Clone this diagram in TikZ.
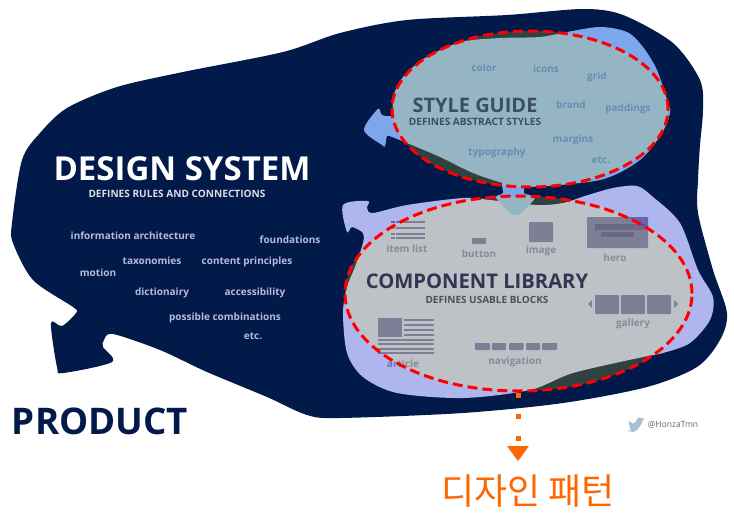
\documentclass[tikz,border=0pt]{standalone}
\usepackage{fontspec}
\setmainfont{Open Sans}
\newfontfamily\krfont{Noto Sans CJK KR}
\definecolor{navy}{HTML}{021A4A}
\definecolor{skyb}{HTML}{7EA6EC}
\definecolor{peri}{HTML}{AFB6EE}
\definecolor{hl}{HTML}{FFFA14}
\definecolor{ora}{HTML}{FF6600}
\definecolor{stext}{HTML}{4B73D2}
\definecolor{sdark}{HTML}{0F2A70}
\definecolor{ctext}{HTML}{0A0864}
\definecolor{csub}{HTML}{2A2864}
\definecolor{cicon}{HTML}{6064B3}
\definecolor{cbar}{HTML}{484A9C}
\definecolor{clab}{HTML}{6E72B8}
\definecolor{ltext}{HTML}{B7B9DC}
\definecolor{birdc}{HTML}{A9BFCF}
\tikzset{
  x=1pt,y=-1pt,
  every node/.style={inner sep=0pt,outer sep=0pt,font=\bfseries},
  icon/.style={fill=cicon,draw=none},
  bar/.style={fill=cbar,draw=none},
  stylesmall/.style={text=stext,font=\bfseries\fontsize{10}{12}\selectfont},
  compsmall/.style={text=clab,font=\bfseries\fontsize{10}{12}\selectfont},
  leftsmall/.style={text=ltext,font=\bfseries\fontsize{10}{12}\selectfont},
  highlight/.style={fill=hl,fill opacity=.18},
  ring/.style={draw=red,line width=3pt,dash pattern=on 10pt off 5pt},
  flow/.style={draw=ora,line width=5pt,dash pattern=on 5pt off 16.5pt},
}
\begin{document}
\begin{tikzpicture}
\useasboundingbox (0,0) rectangle (734,517);
% navy body
\fill[navy] plot[smooth cycle,tension=.5] coordinates {
 (22,160)(40,133)(67,108)(117,87)(183,72)(283,52)(340,33)(407,20)(507,15)(583,9)(623,15)(673,43)(700,80)(703,110)(700,145)(698,180)(698,213)(713,270)(727,313)(720,340)(697,367)(647,387)(563,403)(463,413)(340,418)(307,415)(267,397)(207,372)(160,350)(113,334)(104,340)(103,347)(112,362)(63,373)(57,367)(51,323)(62,326)(76,313)(73,307)(33,280)(13,243)(12,223)};
% style guide piece
\fill[skyb] plot[smooth cycle,tension=.5] coordinates {
 (393,115)(393,97)(403,77)(425,58)(461,42)(500,38)(540,37)(567,32)(600,27)(627,32)(643,47)(657,70)(668,103)(670,113)(662,133)(640,160)(600,180)(527,187)(503,183)(473,173)(440,157)(407,143)(392,137)(387,136)(385,146)(382,145)(364,130)(378,109)(382,115)};
% component library piece
\fill[peri] plot[smooth cycle,tension=.5] coordinates {
 (343,205)(368,201)(367,208)(373,213)(407,205)(463,198)(490,200)(537,205)(563,203)(585,196)(613,188)(637,186)(653,197)(680,223)(698,270)(713,297)(710,320)(690,343)(663,353)(643,357)(573,373)(530,390)(463,398)(397,393)(363,377)(347,353)(343,313)(347,287)(355,267)(363,243)(363,233)(352,227)(347,232)};
% tab of the style guide over the component piece
\fill[skyb] plot[smooth cycle,tension=.5] coordinates {
 (503,182)(524,182)(524,193)(535,197.5)(522,212)(517,215)(510,213)(496,197.5)(503,193)};
% left texts
\node[text=white,font=\bfseries\fontsize{33}{36}\selectfont] (ds) at (182,169) {DESIGN SYSTEM};
\node[text=white!85!navy,font=\bfseries\fontsize{10.1}{12}\selectfont] (dssub) at (177,194) {DEFINES RULES AND CONNECTIONS};
\node[leftsmall] (t1) at (133,236) {information architecture};
\node[leftsmall] (t2) at (290,240) {foundations};
\node[leftsmall] (t3) at (152,261) {taxonomies};
\node[leftsmall] (t4) at (247,262) {content principles};
\node[leftsmall] (t5) at (98,273) {motion};
\node[leftsmall] (t6) at (162,293) {dictionairy};
\node[leftsmall] (t7) at (255,293) {accessibility};
\node[leftsmall] (t8) at (225,318) {possible combinations};
\node[leftsmall] (t9) at (253,336) {etc.};
\node[text=navy,font=\bfseries\fontsize{36.7}{40}\selectfont] (prod) at (100,421) {PRODUCT};
% style guide texts
\node[text=sdark,font=\bfseries\fontsize{20}{22}\selectfont] (sg) at (475,105) {STYLE GUIDE};
\node[text=sdark,font=\bfseries\fontsize{10.1}{12}\selectfont] (sgsub) at (475,122) {DEFINES ABSTRACT STYLES};
\node[stylesmall] (s1) at (484,68) {color};
\node[stylesmall] (s2) at (546,69) {icons};
\node[stylesmall] (s3) at (597,77) {grid};
\node[stylesmall] (s4) at (571,105) {brand};
\node[stylesmall] (s5) at (628,109) {paddings};
\node[stylesmall] (s6) at (573,140) {margins};
\node[stylesmall] (s7) at (601,160) {etc.};
\node[stylesmall] (s8) at (497,153) {typography};
% component texts
\node[text=ctext,font=\bfseries\fontsize{20.2}{24}\selectfont] (cl) at (477,281) {COMPONENT LIBRARY};
\node[text=csub,font=\bfseries\fontsize{10}{12}\selectfont] (clsub) at (487,300) {DEFINES USABLE BLOCKS};
\node[compsmall] (c1) at (407,249) {item list};
\node[compsmall] (c2) at (479,254) {button};
\node[compsmall] (c3) at (541,251) {image};
\node[compsmall] (c4) at (615,258) {hero};
\node[compsmall] (c5) at (633,324) {gallery};
\node[compsmall] (c6) at (403,364) {article};
\node[compsmall] (c7) at (515,362) {navigation};
% icons
\foreach \y in {220.5,226.5,232.5,237}{
  \fill[icon] (391,\y) rectangle (395,\y+2);
  \fill[icon] (396,\y) rectangle (425,\y+2);
}
\fill[icon,rounded corners=.8pt] (472,238) rectangle (486,244);
\fill[icon,rounded corners=.8pt] (529,222) rectangle (553,242);
\fill[icon,rounded corners=.8pt] (587,217) rectangle (648,248);
\fill[bar] (595,224) rectangle (645,230);
\fill[bar] (601,232) rectangle (634,237);
\foreach \x in {595,621,647}
  \fill[icon,rounded corners=.8pt] (\x,295) rectangle (\x+24,314);
\fill[icon] (588,304) -- (592,300) -- (592,308) -- cycle;
\fill[icon] (678,304) -- (674,300) -- (674,308) -- cycle;
\fill[icon] (378,318) rectangle (402,337);
\foreach \y in {318.5,323.5,328.5,333.5}
  \fill[icon] (404,\y) rectangle (434,\y+2);
\foreach \y in {338.5,343,347.5,352}
  \fill[icon] (378,\y) rectangle (434,\y+2);
\foreach \x/\w in {475/15,492/14,509/14.5,526/14,542/15}
  \fill[icon,rounded corners=.8pt] (\x,343) rectangle (\x+\w,350);
% highlighted ellipses
\path[highlight] (530,109) ellipse [x radius=138pt,y radius=78pt];
\path[highlight] (518.5,293.5) ellipse [x radius=173.5pt,y radius=97.5pt];
\path[ring] (530,109) ellipse [x radius=138pt,y radius=78pt];
\path[ring] (518.5,293.5) ellipse [x radius=173.5pt,y radius=97.5pt];
% orange connector and label
\coordinate (flowstart) at (518,392.5);
\coordinate (flowend) at (518,441);
\draw[flow] (flowstart) -- (flowend);
\fill[ora] (507,446) -- (529,446) -- (518,461) -- cycle;
\node[text=ora,font=\krfont\fontsize{36}{42}\selectfont] (kr) at (528,491) {디자인 패턴};
% credit
\fill[birdc] plot[smooth cycle,tension=.35] coordinates {(644,418.5)(642.5,420.5)(642,423)(638,429)(633,432)(628,430.5)(631.5,430)(629.5,428)(629.5,425.5)(628.5,421)(633,423.5)(636,421.5)(638,417.5)(641,418)};
\node[text=black!60,font=\fontsize{8.5}{10}\selectfont] (credit) at (673,425) {@HonzaTmn};
\end{tikzpicture}
\end{document}
